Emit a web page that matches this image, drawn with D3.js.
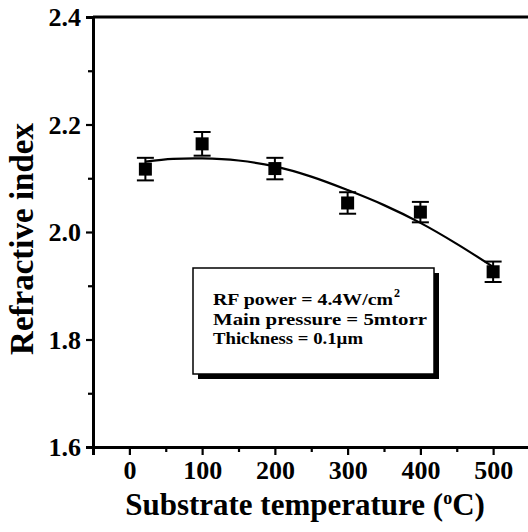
<!DOCTYPE html>
<html><head><meta charset="utf-8">
<script src="https://cdn.jsdelivr.net/npm/d3@7"></script>
<style>body{margin:0;background:#fff}svg{display:block}text{font-family:"Liberation Serif","Times New Roman",serif;font-weight:bold;fill:#000}</style>
</head><body>
<script>
const temps = [22, 100, 200, 300, 400, 500];
const indexValues = [2.117, 2.164, 2.118, 2.054, 2.037, 1.926];
const errors = [0.021, 0.022, 0.020, 0.020, 0.019, 0.019];
const fitTemps = [22, 60, 100, 150, 200, 250, 300, 350, 400, 450, 500];
const fitValues = [2.131, 2.136, 2.137, 2.133, 2.122, 2.103, 2.078, 2.050, 2.017, 1.978, 1.935];
const xTicks = [0, 100, 200, 300, 400, 500];
const xMinor = [-50, 50, 150, 250, 350, 450, 550];
const yTicks = [1.6, 1.8, 2.0, 2.2, 2.4];
const yMinor = [1.7, 1.9, 2.1, 2.3];
const noteLines = ["RF power = 4.4W/cm", "Main pressure = 5mtorr", "Thickness = 0.1\u00b5m"];

const W = 528, H = 532;
const svg = d3.select("body").append("svg").attr("width", W).attr("height", H);
const x = d3.scaleLinear().domain([-50, 550]).range([93, 529.5]);
const y = d3.scaleLinear().domain([1.6, 2.4]).range([447, 17]);

// frame
svg.append("line").attr("x1", x(-50)).attr("x2", W + 5).attr("y1", y(2.4)).attr("y2", y(2.4)).attr("stroke", "#000").attr("stroke-width", 3);
svg.append("line").attr("x1", x(550) + 2).attr("x2", x(550) + 2).attr("y1", y(2.4)).attr("y2", y(1.6)).attr("stroke", "#000").attr("stroke-width", 3);

// axes
const xAxis = svg.append("g").attr("transform", `translate(0,${y(1.6)})`)
  .call(d3.axisBottom(x).tickValues(xTicks).tickSize(8).tickPadding(6).tickFormat(d3.format("d")));
const xAxisMinor = svg.append("g").attr("transform", `translate(0,${y(1.6)})`)
  .call(d3.axisBottom(x).tickValues(xMinor).tickSize(5).tickFormat(""));
const yAxis = svg.append("g").attr("transform", `translate(${x(-50)},0)`)
  .call(d3.axisLeft(y).tickValues(yTicks).tickSize(7).tickPadding(5).tickFormat(d3.format(".1f")));
const yAxisMinor = svg.append("g").attr("transform", `translate(${x(-50)},0)`)
  .call(d3.axisLeft(y).tickValues(yMinor).tickSize(5).tickFormat(""));
[xAxis, xAxisMinor, yAxis, yAxisMinor].forEach(g => {
  g.select(".domain").attr("stroke-width", 3).attr("stroke", "#000");
  g.selectAll(".tick line").attr("stroke-width", 2.2).attr("stroke", "#000");
  g.selectAll("text").style("font-size", "26px").attr("fill", "#000");
});
xAxis.selectAll("text").attr("dy", "0.71em");
yAxis.selectAll("text").attr("dy", "0.34em");

// fit curve
const line = d3.line().x((d, i) => x(fitTemps[i])).y(d => y(d)).curve(d3.curveCatmullRom);
svg.append("path").datum(fitValues).attr("d", line).attr("fill", "none").attr("stroke", "#000").attr("stroke-width", 2.2);

// error bars
const eb = svg.append("g").selectAll("g").data(temps).join("g");
eb.append("line").attr("x1", d => x(d)).attr("x2", d => x(d))
  .attr("y1", (d, i) => y(indexValues[i] + errors[i])).attr("y2", (d, i) => y(indexValues[i] - errors[i]))
  .attr("stroke", "#000").attr("stroke-width", 2);
[1, -1].forEach(s => {
  eb.append("line").attr("x1", d => x(d) - 8.5).attr("x2", d => x(d) + 8.5)
    .attr("y1", (d, i) => y(indexValues[i] + s * errors[i])).attr("y2", (d, i) => y(indexValues[i] + s * errors[i]))
    .attr("stroke", "#000").attr("stroke-width", 2);
});
// markers
svg.append("g").selectAll("rect").data(temps).join("rect")
  .attr("x", d => x(d) - 6.5).attr("y", (d, i) => y(indexValues[i]) - 6.5)
  .attr("width", 13).attr("height", 13).attr("fill", "#000");

// note box
const bx = 193, by = 268, bw = 241, bh = 106;
svg.append("rect").attr("x", bx + 5).attr("y", by + 5).attr("width", bw).attr("height", bh).attr("fill", "#000");
svg.append("rect").attr("x", bx).attr("y", by).attr("width", bw).attr("height", bh).attr("fill", "#fff").attr("stroke", "#000").attr("stroke-width", 1.5);
const nt = svg.append("g").selectAll("text").data(noteLines).join("text")
  .attr("x", 213).attr("y", (d, i) => 305 + i * 19.5).style("font-size", "17.5px")
  .attr("textLength", (d, i) => [180, 214, 150][i]).attr("lengthAdjust", "spacingAndGlyphs").text(d => d);
svg.append("text").attr("x", 394).attr("y", 297).style("font-size", "12px").text("2");

// axis titles
const xt = svg.append("text").attr("x", 305).attr("y", 515).attr("text-anchor", "middle").style("font-size", "31px")
  .text("Substrate temperature (");
xt.append("tspan").attr("dy", -11).style("font-size", "18px").text("o");
xt.append("tspan").attr("dy", 11).text("C)");
svg.append("text").attr("transform", "translate(33,239) rotate(-90)").attr("text-anchor", "middle").style("font-size", "33px")
  .text("Refractive index");
</script>
</body></html>
